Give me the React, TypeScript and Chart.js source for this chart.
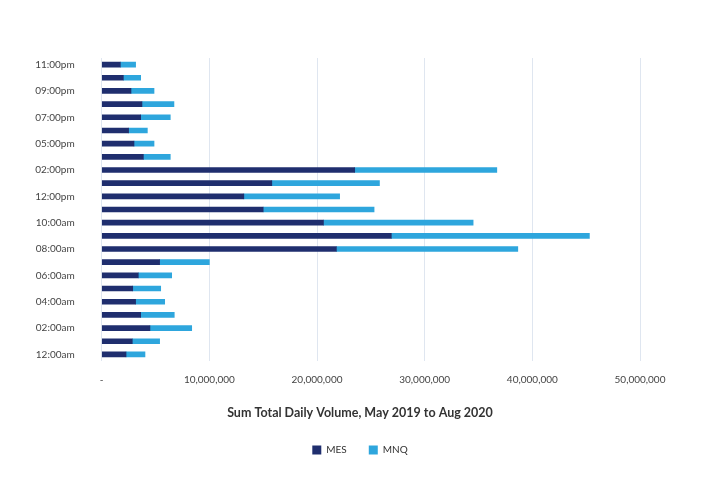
import React, { useEffect, useRef } from "react";
import { Chart, registerables } from "chart.js";

Chart.register(...registerables);

const hours = [
  "12:00am", "01:00am", "02:00am", "03:00am", "04:00am", "05:00am", "06:00am", "07:00am",
  "08:00am", "09:00am", "10:00am", "11:00am", "12:00pm", "01:00pm", "02:00pm", "03:00pm",
  "05:00pm", "06:00pm", "07:00pm", "08:00pm", "09:00pm", "10:00pm", "11:00pm",
];

const mesVolume = [
  2260000, 2840000, 4480000, 3620000, 3150000, 2880000, 3400000, 5380000,
  21800000, 26900000, 20600000, 15000000, 13200000, 15800000, 23500000, 3870000,
  3000000, 2500000, 3620000, 3740000, 2720000, 2010000, 1730000,
];

const mnqVolume = [
  1760000, 2540000, 3880000, 3120000, 2700000, 2600000, 3100000, 4620000,
  16850000, 18400000, 13900000, 10300000, 8900000, 10000000, 13200000, 2500000,
  1860000, 1740000, 2750000, 2970000, 2140000, 1610000, 1420000,
];

const seriesNames = ["MES", "MNQ"];
const axisTitle = "Sum Total Daily Volume, May 2019 to Aug 2020";

export default function App() {
  const ref = useRef<HTMLCanvasElement | null>(null);

  useEffect(() => {
    if (!ref.current) return;
    const font = "Lato, 'Open Sans', sans-serif";
    const chart = new Chart(ref.current, {
      type: "bar",
      data: {
        labels: hours,
        datasets: [
          {
            label: seriesNames[0],
            data: mesVolume,
            backgroundColor: "#1f2e6e",
            barThickness: 5,
          },
          {
            label: seriesNames[1],
            data: mnqVolume,
            backgroundColor: "#2ea6dd",
            barThickness: 5,
          },
        ],
      },
      options: {
        indexAxis: "y",
        animation: false,
        responsive: true,
        maintainAspectRatio: false,
        layout: { padding: { top: 58, right: 0, bottom: 35, left: 0 } },
        plugins: {
          tooltip: { enabled: false },
          title: {
            display: true,
            position: "bottom",
            text: axisTitle,
            color: "#333",
            weight: 500,
            font: { family: font, size: 12.5, weight: "bold" },
            padding: { top: 6, bottom: 3 },
          },
          legend: {
            position: "bottom",
            weight: 1000,
            labels: {
              boxWidth: 9,
              boxHeight: 9,
              padding: 22,
              color: "#333",
              font: { family: font, size: 10 },
            },
          },
        },
        scales: {
          x: {
            stacked: true,
            min: 0,
            max: 50000000,
            grid: { color: "#dfe6f0", drawTicks: false },
            border: { display: false },
            ticks: {
              stepSize: 10000000,
              padding: 13,
              color: "#444",
              font: { family: font, size: 10 },
              callback: (v: any) => (Number(v) === 0 ? "-" : Number(v).toLocaleString("en-US")),
            },
          },
          y: {
            stacked: true,
            reverse: true,
            grid: { display: false },
            border: { display: false },
            afterFit: (scale: any) => {
              scale.width = 101.7;
            },
            ticks: {
              autoSkip: false,
              padding: 19,
              color: "#444",
              font: { family: font, size: 10 },
              callback: function (this: any, _v: any, i: number) {
                return i % 2 === 0 ? hours[i] : "";
              },
            },
          },
          yRight: {
            type: "linear",
            position: "right",
            grid: { display: false },
            border: { display: false },
            ticks: { display: false },
            afterFit: (scale: any) => {
              scale.width = 80;
            },
          },
        },
      },
    });
    return () => chart.destroy();
  }, []);

  return (
    <div style={{ position: "absolute", left: 0, top: 0, width: 720, height: 500, background: "#fff" }}>
      <canvas ref={ref} />
    </div>
  );
}
